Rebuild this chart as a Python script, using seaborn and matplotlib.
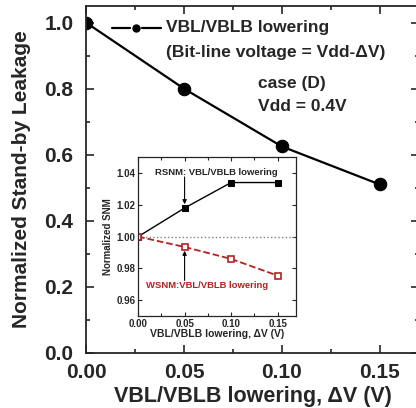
import matplotlib
matplotlib.use("Agg")
import matplotlib.pyplot as plt
import numpy as np
import pandas as pd
import seaborn as sns
from matplotlib.ticker import MultipleLocator, FormatStrFormatter

# main plot data
delta_v = [0.00, 0.05, 0.10, 0.15]
leakage = [1.00, 0.80, 0.625, 0.51]

# inset data
rsnm = [1.000, 1.018, 1.034, 1.034]
wsnm = [1.000, 0.9935, 0.986, 0.9755]

DARK_RED = "#b22222"

sns.set_theme(style="ticks")
plt.rcParams["font.family"] = ["Liberation Sans", "DejaVu Sans"]
plt.rcParams["font.weight"] = "bold"
plt.rcParams["axes.labelweight"] = "bold"

fig = plt.figure(figsize=(4.16, 4.08), dpi=100)
ax = fig.add_axes([0.207, 0.135, 0.80, 0.85])

main = pd.DataFrame({"dv": delta_v, "leak": leakage})
sns.lineplot(data=main, x="dv", y="leak", ax=ax, color="black", lw=1.6,
             marker="o", markersize=9, markeredgecolor="black")
ax.set_xlim(0, 0.17)
ax.set_ylim(0, 1.05)
ax.xaxis.set_major_locator(MultipleLocator(0.05))
ax.xaxis.set_minor_locator(MultipleLocator(0.025))
ax.yaxis.set_major_locator(MultipleLocator(0.2))
ax.yaxis.set_minor_locator(MultipleLocator(0.1))
ax.xaxis.set_major_formatter(FormatStrFormatter("%.2f"))
ax.yaxis.set_major_formatter(FormatStrFormatter("%.1f"))
ax.tick_params(which="both", direction="in", top=True, right=True, width=1.2)
ax.tick_params(which="major", length=6, labelsize=15)
ax.tick_params(which="minor", length=3)
ax.tick_params(axis="x", pad=7)
ax.tick_params(axis="y", pad=9)
for s in ax.spines.values():
    s.set_linewidth(1.3)
ax.set_xlabel("VBL/VBLB lowering, \u0394V (V)", fontsize=15.5, labelpad=3)
ax.set_ylabel("Normalized Stand-by Leakage", fontsize=15, labelpad=10)

# legend-like annotation text
ax.plot([0.013, 0.0225], [0.985, 0.985], color="black", lw=1.6)
ax.plot([0.0285, 0.038], [0.985, 0.985], color="black", lw=1.6)
ax.plot([0.0255], [0.985], marker="o", color="black", markersize=5)
ax.text(0.041, 0.985, "VBL/VBLB lowering", fontsize=12.5, va="center")
ax.text(0.041, 0.91, "(Bit-line voltage = Vdd-\u0394V)", fontsize=12.5, va="center")
ax.text(0.088, 0.815, "case (D)", fontsize=12.5, va="center")
ax.text(0.088, 0.745, "Vdd = 0.4V", fontsize=12.5, va="center")

# inset
ins = fig.add_axes([0.332, 0.225, 0.380, 0.390])
ins_df = pd.DataFrame({"dv": delta_v, "rsnm": rsnm, "wsnm": wsnm})
ins.axhline(1.0, color="gray", lw=1, ls=":")
sns.lineplot(data=ins_df, x="dv", y="rsnm", ax=ins, color="black", lw=1,
             marker="s", markersize=5, markeredgecolor="black")
sns.lineplot(data=ins_df, x="dv", y="wsnm", ax=ins, color=DARK_RED, lw=1.3,
             marker="s", markersize=4.5, markerfacecolor="white",
             markeredgecolor=DARK_RED, markeredgewidth=1.2, linestyle="--")
ins.set_xlim(0, 0.17)
ins.set_ylim(0.95, 1.05)
ins.xaxis.set_major_locator(MultipleLocator(0.05))
ins.xaxis.set_minor_locator(MultipleLocator(0.025))
ins.yaxis.set_major_locator(MultipleLocator(0.02))
ins.xaxis.set_major_formatter(FormatStrFormatter("%.2f"))
ins.yaxis.set_major_formatter(FormatStrFormatter("%.2f"))
ins.tick_params(which="both", direction="in", top=True, right=True, width=0.8)
ins.tick_params(which="major", length=3, labelsize=7, pad=2)
ins.tick_params(which="minor", length=2)
for s in ins.spines.values():
    s.set_linewidth(0.9)
ins.set_xlabel("VBL/VBLB lowering, \u0394V (V)", fontsize=7.5, labelpad=0)
ins.set_ylabel("Normalized SNM", fontsize=7, labelpad=2)

arrow = dict(arrowstyle="-|>", color="black", lw=0.8, shrinkA=0, shrinkB=1,
             mutation_scale=6)
ins.text(0.084, 1.0405, "RSNM: VBL/VBLB lowering", fontsize=6.8,
         ha="center", va="center")
ins.annotate("", xy=(0.05, 1.0195), xytext=(0.05, 1.0375), arrowprops=arrow)
ins.text(0.0742, 0.9695, "WSNM:VBL/VBLB lowering", fontsize=6.8,
         ha="center", va="center", color=DARK_RED)
ins.annotate("", xy=(0.05, 0.992), xytext=(0.05, 0.9725), arrowprops=arrow)

fig.savefig("out.png", dpi=100)
